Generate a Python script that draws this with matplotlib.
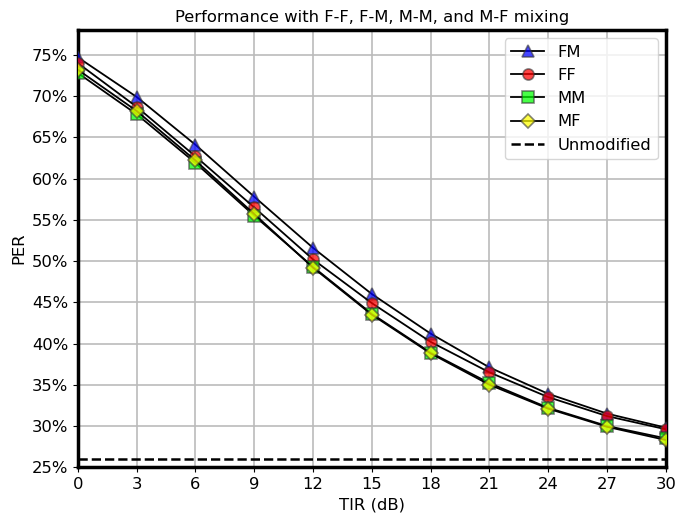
import matplotlib
matplotlib.use("Agg")
import matplotlib.pyplot as plt
from matplotlib.colors import to_rgba
from matplotlib.ticker import PercentFormatter

tir = [0, 3, 6, 9, 12, 15, 18, 21, 24, 27, 30]
fm = [74.7, 69.9, 64.1, 57.8, 51.6, 46.0, 41.2, 37.1, 33.9, 31.5, 29.8]
ff = [74.0, 68.7, 62.7, 56.5, 50.2, 44.9, 40.2, 36.5, 33.5, 31.2, 29.6]
mm = [72.8, 67.8, 61.9, 55.5, 49.3, 43.6, 38.9, 35.2, 32.2, 30.0, 28.5]
mf = [73.2, 68.2, 62.2, 55.7, 49.2, 43.5, 38.8, 35.0, 32.1, 29.9, 28.3]
unmodified = 26.0

series = [("FM", fm, "^", "blue"), ("FF", ff, "o", "red"),
          ("MM", mm, "s", "lime"), ("MF", mf, "D", "yellow")]

FS = 11.8
fig, ax = plt.subplots(figsize=(6.76, 5.18), dpi=100)
for name, vals, m, c in series:
    ax.plot(tir, [v / 100 for v in vals], color="black", lw=1.3, marker=m,
            markersize=8 if m != "D" else 7,
            markerfacecolor=to_rgba(c, 0.72),
            markeredgecolor=to_rgba("#333333", 0.6),
            markeredgewidth=1.2, label=name, zorder=3)
ax.axhline(unmodified / 100, color="black", lw=1.8, ls="--", label="Unmodified", zorder=3)

ax.set_xlim(0, 30)
ax.set_ylim(0.25, 0.78)
ax.set_xticks(tir)
ax.set_yticks([0.25, 0.30, 0.35, 0.40, 0.45, 0.50, 0.55, 0.60, 0.65, 0.70, 0.75])
ax.yaxis.set_major_formatter(PercentFormatter(1.0, decimals=0))
ax.grid(True, color="#bbbbbb", lw=1.2)
ax.set_axisbelow(True)
for s in ax.spines.values():
    s.set_linewidth(2.5)
ax.tick_params(labelsize=FS)
ax.set_xlabel("TIR (dB)", fontsize=FS)
ax.set_ylabel("PER", fontsize=FS)
ax.set_title("Performance with F-F, F-M, M-M, and M-F mixing", fontsize=FS)
ax.legend(loc="upper right", fontsize=FS)
fig.subplots_adjust(left=0.115, right=0.985, top=0.942, bottom=0.098)
fig.savefig("out.png", dpi=100)
